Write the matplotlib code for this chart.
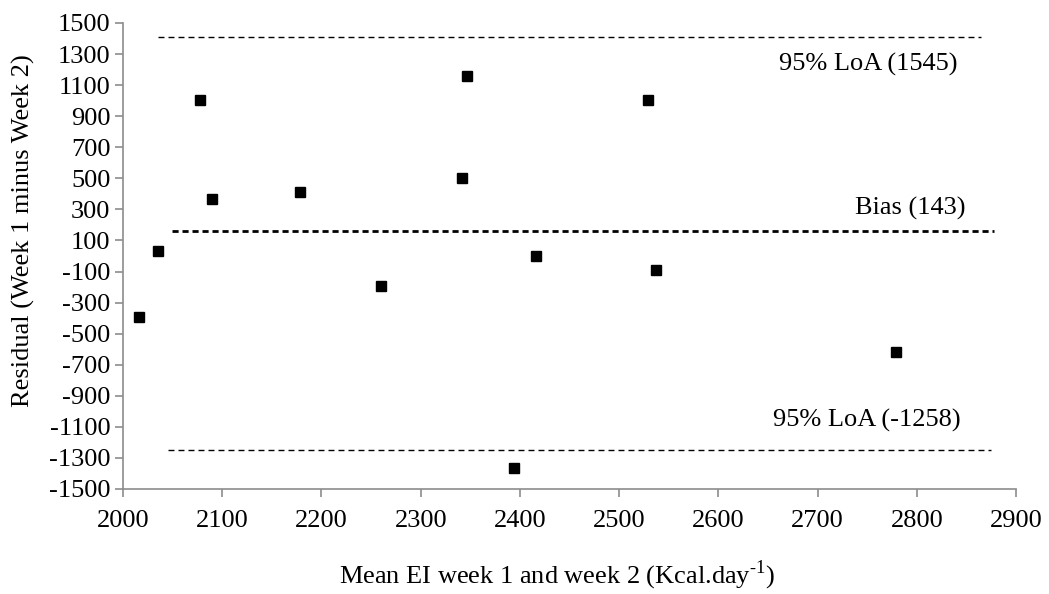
import numpy as np
import matplotlib
matplotlib.use("Agg")
import matplotlib.pyplot as plt

plt.rcParams['font.family'] = ['Liberation Serif', 'DejaVu Serif']
plt.rcParams['mathtext.fontset'] = 'custom'
plt.rcParams['mathtext.rm'] = 'Liberation Serif'
plt.rcParams['axes.unicode_minus'] = False

# datos (media EI vs residuo)
media_ei = [2016, 2035, 2078, 2090, 2178, 2260, 2342, 2347, 2394, 2416, 2529, 2537, 2779]
residuo = [-391, 34, 1004, 369, 412, -191, 500, 1161, -1363, 0, 1004, -90, -618]

# lineas de referencia: (y, x inicio, x fin)
loa_sup = (1412, 2035, 2865)
sesgo = (160, 2049, 2878)
loa_inf = (-1249, 2045, 2875)

etiquetas = ["95% LoA (1545)", "Bias (143)", "95% LoA (-1258)"]
etiq_x = [2751, 2793, 2750]
etiq_y = [1230, 309, -1056]

gris = "#8c8c8c"
fs = 19

fig = plt.figure(figsize=(10.49, 5.94), dpi=100)
ax = fig.add_axes([0.1173, 0.1768, 0.8513, 0.7845])

ax.plot(media_ei, residuo, linestyle="none", marker="s", markersize=7,
        color="black", clip_on=False, zorder=3)

ax.plot(loa_sup[1:], (loa_sup[0], loa_sup[0]), color="black", lw=1.0, dashes=(4.3, 2.9))
ax.plot(sesgo[1:], (sesgo[0], sesgo[0]), color="black", lw=2.0, dashes=(2.2, 1.4))
ax.plot(loa_inf[1:], (loa_inf[0], loa_inf[0]), color="black", lw=1.0, dashes=(4.3, 2.9))

for t, x, y in zip(etiquetas, etiq_x, etiq_y):
    ax.text(x, y, t, ha="center", va="center", fontsize=fs)

ax.set_xlim(2000, 2900)
ax.set_ylim(-1500, 1500)
ax.set_xticks(np.arange(2000, 2901, 100))
ax.set_yticks(np.arange(-1500, 1501, 200))

ax.spines["top"].set_visible(False)
ax.spines["right"].set_visible(False)
for s in ("left", "bottom"):
    ax.spines[s].set_color(gris)
    ax.spines[s].set_linewidth(1.2)
ax.tick_params(axis="both", direction="out", length=6, width=1.2, color=gris,
               labelsize=fs, pad=3)
ax.tick_params(axis="x", pad=9)

fig.text(0.531, 0.017, r"Mean EI week 1 and week 2 (Kcal.day$^{\text{-1}}$)",
         ha="center", va="baseline", fontsize=fs)
fig.text(0.022, 0.612, "Residual (Week 1 minus Week 2)", rotation=90,
         ha="center", va="center", fontsize=fs)

fig.savefig("out.png", dpi=100)
